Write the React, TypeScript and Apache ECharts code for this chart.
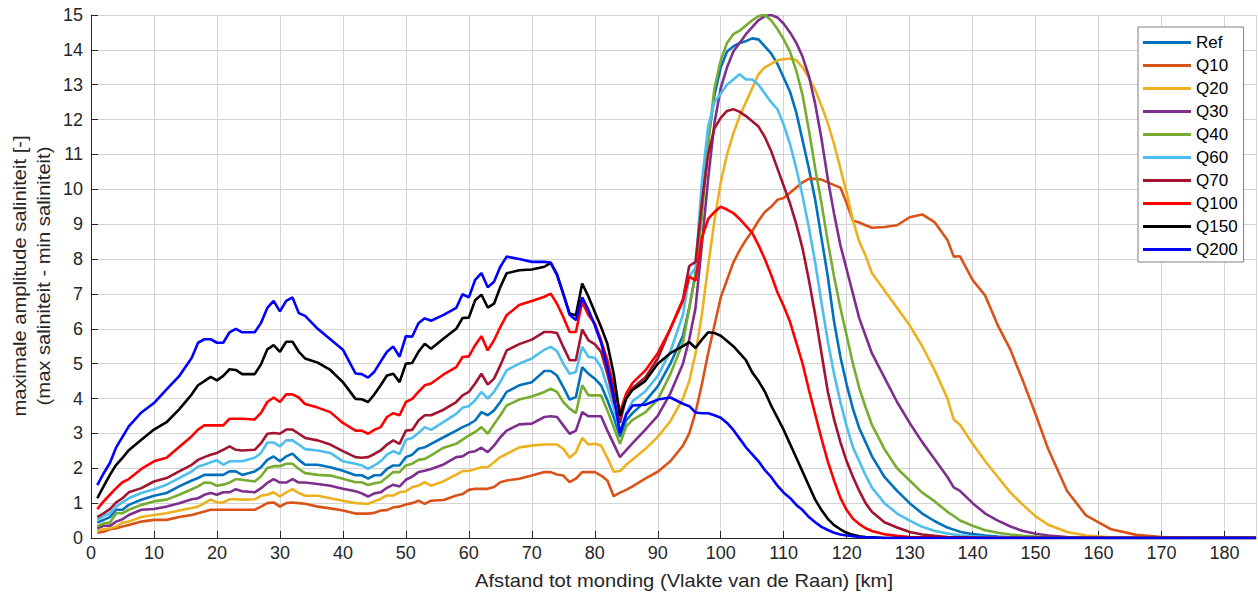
import React, { useEffect, useRef } from "react";
import * as echarts from "echarts";

// Distance from mouth (km) shared by all series
const X_KM = [
  1, 2, 3, 4, 5, 6, 8, 10,
  12, 14, 16, 17, 18, 19, 20, 21, 22, 23, 24,
  26, 27, 28, 29, 30, 31, 32, 33, 34,
  36, 38, 40, 42, 43, 44, 45, 46, 47, 48, 49, 50, 51, 52, 53, 54,
  56, 58, 59, 60, 61, 62, 63, 64, 65, 66,
  68, 70, 72, 73, 74, 75, 76, 77, 78, 79, 80, 81, 82, 83, 84, 85, 86,
  88, 90, 92, 94, 95, 96, 97, 98, 99,
  100, 101, 102, 103, 104, 105, 106, 107, 108, 109, 110, 111, 112,
  113, 114, 115, 116, 117, 118, 119, 120, 121, 122, 123, 124,
  126, 128, 130, 132, 134, 136, 137, 138,
  140, 142, 144, 146, 148, 150, 152, 155, 158, 162, 166, 170, 175, 180, 185,
];

const REF = [
  0.44, 0.52, 0.6, 0.81, 0.81, 0.95, 1.1, 1.21,
  1.29, 1.48, 1.65, 1.72, 1.81, 1.81, 1.81, 1.81, 1.91, 1.91, 1.81,
  1.91, 2.03, 2.24, 2.34, 2.2, 2.34, 2.42, 2.24, 2.1,
  2.1, 2.03, 1.93, 1.8, 1.8, 1.7, 1.8, 1.8, 1.98, 2.08, 2.08, 2.32, 2.39, 2.56, 2.6, 2.7,
  2.89, 3.08, 3.18, 3.26, 3.37, 3.61, 3.52, 3.66, 3.9, 4.19,
  4.38, 4.47, 4.79, 4.79, 4.66, 4.33, 3.97, 4.04, 4.9, 4.71, 4.57, 4.38, 3.95, 3.47, 2.9, 3.38, 3.58,
  3.92, 4.35, 5.0, 5.8, 6.6, 7.6, 9.5, 11.4, 12.7,
  13.5, 13.95, 14.1, 14.2, 14.25, 14.33, 14.3, 14.1, 13.9, 13.6, 13.2, 12.8, 12.2,
  11.4, 10.6, 9.7, 8.6, 7.5, 6.2, 5.2, 4.4, 3.7, 3.15, 2.75, 2.35,
  1.75, 1.35, 1.0, 0.7, 0.48, 0.3, 0.24, 0.18,
  0.11, 0.07, 0.04, 0.02, 0.01, 0, 0, 0, 0, 0, 0, 0, 0, 0, 0,
];

const Q10 = [
  0.15, 0.18, 0.25, 0.28, 0.33, 0.37, 0.47, 0.52,
  0.52, 0.6, 0.66, 0.71, 0.76, 0.81, 0.81, 0.81, 0.81, 0.81, 0.81,
  0.81, 0.9, 1.0, 1.02, 0.9, 1.0, 1.02, 1.0, 0.98,
  0.9, 0.85, 0.79, 0.7, 0.7, 0.7, 0.72, 0.79, 0.8, 0.88, 0.9, 0.96, 1.0, 1.07, 0.98, 1.07,
  1.09, 1.22, 1.26, 1.38, 1.41, 1.41, 1.41, 1.46, 1.6, 1.65,
  1.7, 1.79, 1.89, 1.89, 1.82, 1.79, 1.6, 1.7, 1.89, 1.89, 1.89, 1.79, 1.65, 1.2, 1.3, 1.38, 1.48,
  1.7, 1.9, 2.2, 2.65, 3.0, 3.6, 4.4, 5.3, 6.1,
  6.9, 7.4, 7.9, 8.25, 8.55, 8.8, 9.1, 9.35, 9.5, 9.7, 9.75, 9.9, 10.05,
  10.2, 10.3, 10.3, 10.28, 10.2, 10.12, 10.05, 9.6, 9.1, 9.05, 8.97, 8.9,
  8.92, 8.97, 9.2, 9.28, 9.05, 8.55, 8.07, 8.08,
  7.4, 6.95, 6.1, 5.4, 4.5, 3.55, 2.55, 1.35, 0.65, 0.25, 0.09, 0.03, 0, 0, 0,
];

const Q20 = [
  0.21, 0.25, 0.28, 0.33, 0.44, 0.47, 0.6, 0.66,
  0.71, 0.79, 0.86, 0.9, 1.0, 1.1, 1.02, 1.02, 1.11, 1.11, 1.1,
  1.11, 1.21, 1.24, 1.31, 1.19, 1.31, 1.4, 1.29, 1.21,
  1.21, 1.14, 1.07, 1.0, 0.99, 0.98, 1.05, 1.12, 1.22, 1.22, 1.31, 1.34, 1.46, 1.5, 1.6, 1.5,
  1.63, 1.82, 1.92, 1.92, 1.98, 2.03, 2.03, 2.17, 2.32, 2.41,
  2.6, 2.65, 2.68, 2.68, 2.68, 2.56, 2.3, 2.46, 2.87, 2.68, 2.7, 2.65, 2.3, 1.9, 1.92, 2.1, 2.25,
  2.55, 2.9, 3.35, 4.0, 4.5, 5.3, 6.4, 7.8, 9.1,
  10.2, 11.0, 11.6, 12.1, 12.5, 12.9, 13.3, 13.5, 13.6, 13.7, 13.73, 13.75, 13.7,
  13.5, 13.2, 12.85, 12.4, 11.9, 11.3, 10.6, 9.9, 9.1, 8.5, 8.1, 7.6,
  7.1, 6.6, 6.1, 5.5, 4.8, 4.0, 3.4, 3.25,
  2.7, 2.2, 1.75, 1.3, 0.95, 0.62, 0.38, 0.17, 0.07, 0.02, 0, 0, 0, 0, 0,
];

const Q30 = [
  0.28, 0.35, 0.35, 0.47, 0.54, 0.66, 0.81, 0.83,
  0.9, 1.0, 1.11, 1.14, 1.24, 1.29, 1.24, 1.31, 1.31, 1.4, 1.34,
  1.31, 1.43, 1.58, 1.69, 1.59, 1.59, 1.69, 1.59, 1.59,
  1.55, 1.5, 1.41, 1.34, 1.28, 1.19, 1.28, 1.31, 1.44, 1.53, 1.48, 1.67, 1.76, 1.89, 1.93, 1.98,
  2.11, 2.32, 2.34, 2.46, 2.49, 2.59, 2.46, 2.65, 2.89, 3.08,
  3.26, 3.28, 3.47, 3.49, 3.47, 3.23, 2.99, 3.08, 3.61, 3.49, 3.49, 3.49, 3.08, 2.7, 2.32, 2.52, 2.72,
  3.1, 3.5, 4.15, 5.0, 5.7, 6.6, 8.4, 10.3, 11.9,
  12.9, 13.5, 13.95, 14.2, 14.45, 14.65, 14.85, 14.97, 15.0, 14.93, 14.75, 14.5, 14.2,
  13.8, 13.25, 12.45, 11.45, 10.3, 9.3, 8.4, 7.7, 7.0, 6.3, 5.8, 5.3,
  4.6, 3.9, 3.3, 2.75, 2.25, 1.75, 1.45, 1.35,
  1.0, 0.7, 0.5, 0.33, 0.2, 0.12, 0.07, 0.03, 0.01, 0, 0, 0, 0, 0, 0,
];

const Q40 = [
  0.33, 0.42, 0.44, 0.71, 0.71, 0.81, 0.95, 1.05,
  1.1, 1.24, 1.4, 1.48, 1.59, 1.58, 1.5, 1.53, 1.59, 1.69, 1.67,
  1.62, 1.77, 2.01, 2.06, 2.06, 2.13, 2.13, 1.98, 1.86,
  1.81, 1.79, 1.7, 1.6, 1.6, 1.52, 1.57, 1.6, 1.74, 1.89, 1.89, 2.08, 2.13, 2.24, 2.27, 2.37,
  2.59, 2.7, 2.82, 2.94, 3.04, 3.18, 2.99, 3.26, 3.52, 3.8,
  3.97, 4.06, 4.19, 4.28, 4.19, 3.9, 3.71, 3.58, 4.38, 4.09, 4.09, 4.09, 3.66, 3.18, 2.7, 3.2, 3.39,
  3.6, 3.97, 4.7, 5.6, 6.6, 7.55, 9.2, 11.3, 12.9,
  13.7, 14.2, 14.45, 14.55, 14.7, 14.85, 14.97, 15.0, 14.85, 14.6, 14.3, 13.95, 13.4,
  12.7, 11.7, 10.6, 9.6, 8.5, 7.5, 6.6, 5.8, 5.0, 4.3, 3.75, 3.25,
  2.55, 2.0, 1.65, 1.3, 1.05, 0.75, 0.63, 0.5,
  0.35, 0.22, 0.15, 0.1, 0.06, 0.04, 0.02, 0.01, 0, 0, 0, 0, 0, 0, 0,
];

const Q60 = [
  0.52, 0.63, 0.71, 0.9, 1.02, 1.14, 1.29, 1.4,
  1.53, 1.72, 1.91, 2.05, 2.1, 2.17, 2.23, 2.1, 2.2, 2.2, 2.2,
  2.3, 2.44, 2.74, 2.74, 2.63, 2.8, 2.8, 2.68, 2.55,
  2.51, 2.44, 2.2, 2.13, 2.08, 1.98, 2.08, 2.2, 2.39, 2.49, 2.41, 2.82, 2.87, 3.01, 3.18, 3.1,
  3.33, 3.56, 3.74, 3.78, 3.95, 4.19, 4.0, 4.19, 4.48, 4.81,
  5.0, 5.15, 5.4, 5.48, 5.36, 5.0, 4.71, 4.76, 5.48, 5.19, 5.17, 4.9, 4.33, 3.75, 3.05, 3.58, 3.92,
  4.2, 4.65, 5.35, 6.4, 7.5, 7.75, 10.2, 11.8, 12.5,
  12.75, 13.0, 13.15, 13.3, 13.15, 13.15, 13.0, 12.75, 12.5, 12.3, 11.85, 11.3, 10.6,
  9.8, 8.9, 7.9, 6.75, 5.65, 4.7, 3.9, 3.2, 2.6, 2.2, 1.8, 1.45,
  1.0, 0.7, 0.5, 0.32, 0.2, 0.13, 0.1, 0.08,
  0.05, 0.03, 0.02, 0.01, 0, 0, 0, 0, 0, 0, 0, 0, 0, 0, 0,
];

const Q70 = [
  0.6, 0.71, 0.83, 1.02, 1.14, 1.31, 1.43, 1.62,
  1.72, 1.91, 2.1, 2.24, 2.32, 2.39, 2.44, 2.53, 2.63, 2.53, 2.51,
  2.53, 2.72, 2.99, 3.01, 2.99, 3.11, 3.11, 2.99, 2.87,
  2.8, 2.68, 2.49, 2.32, 2.3, 2.32, 2.41, 2.51, 2.68, 2.8, 2.7, 3.08, 3.1, 3.37, 3.52, 3.52,
  3.68, 3.9, 4.09, 4.19, 4.43, 4.71, 4.4, 4.57, 4.95, 5.38,
  5.56, 5.69, 5.91, 5.91, 5.88, 5.48, 5.1, 5.1, 5.98, 5.67, 5.56, 5.34, 4.71, 3.95, 3.3, 4.05, 4.3,
  4.6, 5.15, 6.0, 6.85, 7.8, 7.92, 9.6, 11.0, 11.75,
  12.05, 12.25, 12.3, 12.22, 12.1, 11.95, 11.8, 11.5, 11.1, 10.6, 10.1, 9.6, 9.0,
  8.3, 7.4, 6.4, 5.3, 4.2, 3.4, 2.75, 2.2, 1.75, 1.35, 1.0, 0.75,
  0.45, 0.3, 0.17, 0.1, 0.06, 0.03, 0.02, 0.02,
  0.01, 0, 0, 0, 0, 0, 0, 0, 0, 0, 0, 0, 0, 0, 0,
];

const Q100 = [
  0.83, 1.05, 1.24, 1.43, 1.6, 1.69, 1.98, 2.2,
  2.3, 2.61, 2.92, 3.11, 3.23, 3.23, 3.23, 3.23, 3.42, 3.42, 3.42,
  3.4, 3.59, 3.9, 4.03, 3.9, 4.12, 4.12, 4.03, 3.84,
  3.74, 3.61, 3.3, 3.08, 3.08, 2.99, 3.1, 3.18, 3.47, 3.58, 3.52, 3.9, 3.99, 4.19, 4.38, 4.43,
  4.69, 4.9, 5.19, 5.21, 5.53, 5.79, 5.38, 5.67, 6.05, 6.39,
  6.68, 6.8, 6.92, 7.01, 6.72, 6.34, 5.91, 5.91, 6.77, 6.39, 6.15, 5.67, 5.1, 4.33, 3.6, 4.15, 4.45,
  4.8, 5.3, 6.0, 6.8, 7.5, 7.38, 8.6, 9.15, 9.35,
  9.5, 9.42, 9.32, 9.15, 8.95, 8.75, 8.4, 8.0, 7.55, 7.05, 6.65, 6.2, 5.6,
  5.0, 4.25, 3.55, 2.85, 2.2, 1.65, 1.15, 0.8, 0.55, 0.4, 0.28, 0.2,
  0.11, 0.06, 0.03, 0.02, 0.01, 0, 0, 0,
  0, 0, 0, 0, 0, 0, 0, 0, 0, 0, 0, 0, 0, 0, 0,
];

const Q150 = [
  1.14, 1.48, 1.81, 2.1, 2.3, 2.52, 2.82, 3.11,
  3.32, 3.69, 4.12, 4.38, 4.5, 4.62, 4.52, 4.65, 4.84, 4.82, 4.7,
  4.7, 4.98, 5.41, 5.53, 5.34, 5.63, 5.63, 5.34, 5.15,
  5.03, 4.82, 4.47, 3.99, 3.98, 3.9, 4.12, 4.38, 4.66, 4.71, 4.47, 5.0, 5.02, 5.34, 5.57, 5.43,
  5.72, 6.0, 6.31, 6.32, 6.82, 6.98, 6.61, 6.72, 7.2, 7.59,
  7.68, 7.7, 7.78, 7.89, 7.57, 7.0, 6.44, 6.39, 7.3, 6.92, 6.48, 6.05, 5.57, 4.71, 3.5, 4.0, 4.25,
  4.5, 5.0, 5.3, 5.5, 5.62, 5.45, 5.69, 5.9, 5.88,
  5.8, 5.65, 5.5, 5.3, 5.1, 4.75, 4.5, 4.2, 3.8, 3.45, 3.1, 2.7, 2.3,
  1.9, 1.5, 1.1, 0.8, 0.55, 0.37, 0.25, 0.15, 0.09, 0.05, 0.03, 0.02,
  0, 0, 0, 0, 0, 0, 0, 0,
  0, 0, 0, 0, 0, 0, 0, 0, 0, 0, 0, 0, 0, 0, 0,
];

const Q200 = [
  1.52, 1.85, 2.15, 2.6, 2.9, 3.2, 3.6, 3.87,
  4.26, 4.64, 5.17, 5.6, 5.7, 5.7, 5.6, 5.6, 5.9, 6.0, 5.9,
  5.9, 6.17, 6.6, 6.8, 6.5, 6.8, 6.9, 6.45, 6.37,
  6.0, 5.7, 5.4, 4.72, 4.7, 4.6, 4.77, 5.06, 5.34, 5.49, 5.2, 5.79, 5.77, 6.16, 6.3, 6.23,
  6.4, 6.6, 6.99, 6.9, 7.4, 7.6, 7.19, 7.35, 7.78, 8.07,
  8.0, 7.92, 7.92, 7.9, 7.54, 7.0, 6.4, 6.25, 6.9, 6.54, 6.1, 5.6, 4.9, 4.1, 3.0, 3.55, 3.8,
  3.82, 3.97, 4.03, 3.85, 3.78, 3.6, 3.58, 3.58, 3.52,
  3.45, 3.3, 3.1, 2.85, 2.6, 2.4, 2.2, 1.95, 1.75, 1.5, 1.3, 1.15, 0.95,
  0.8, 0.6, 0.45, 0.32, 0.23, 0.15, 0.1, 0.07, 0.05, 0.03, 0.02, 0.01,
  0, 0, 0, 0, 0, 0, 0, 0,
  0, 0, 0, 0, 0, 0, 0, 0, 0, 0, 0, 0, 0, 0, 0,
];

const SERIES_NAMES = ["Ref", "Q10", "Q20", "Q30", "Q40", "Q60", "Q70", "Q100", "Q150", "Q200"];
const SERIES_VALUES = [REF, Q10, Q20, Q30, Q40, Q60, Q70, Q100, Q150, Q200];
const SERIES_COLORS = [
  "#0072BD", "#D95319", "#EDB120", "#7E2F8E", "#77AC30",
  "#4DBEEE", "#A2142F", "#FF0000", "#000000", "#0000FF",
];

const X_TITLE = "Afstand tot monding (Vlakte van de Raan) [km]";
const Y_TITLE_1 = "maximale amplitude saliniteit [-]";
const Y_TITLE_2 = "(max saliniteit - min saliniteit)";

const FONT = "'Liberation Sans', Arial, Helvetica, sans-serif";
const AXIS_COLOR = "#262626";
const GRID_COLOR = "#d3d3d3";

export default function App() {
  const ref = useRef<HTMLDivElement>(null);

  useEffect(() => {
    if (!ref.current) return;
    const chart = echarts.init(ref.current, undefined, { renderer: "svg" });

    const series = SERIES_NAMES.map((name, s) => ({
      name,
      type: "line",
      symbol: "none",
      showSymbol: false,
      color: SERIES_COLORS[s],
      lineStyle: { width: 2.6, color: SERIES_COLORS[s] },
      data: X_KM.map((x, i) => [x, SERIES_VALUES[s][i]]),
      z: 2 + s,
    }));

    const titleStyle = {
      font: `18px ${FONT}`,
      fill: AXIS_COLOR,
      textAlign: "center",
      textVerticalAlign: "middle",
    };

    chart.setOption({
      animation: false,
      backgroundColor: "#ffffff",
      grid: { left: 91, top: 15, width: 1165, height: 523, containLabel: false },
      xAxis: {
        type: "value",
        min: 0,
        max: 185,
        interval: 10,
        axisLine: { show: true, onZero: false, lineStyle: { color: AXIS_COLOR, width: 1 } },
        axisTick: { show: true, inside: true, length: 7, lineStyle: { color: AXIS_COLOR } },
        axisLabel: {
          fontSize: 18,
          color: AXIS_COLOR,
          fontFamily: FONT,
          margin: 6,
          showMaxLabel: false,
          formatter: (v: number) => (v % 10 === 0 ? String(v) : ""),
        },
        splitLine: { show: true, lineStyle: { color: GRID_COLOR, width: 1 } },
      },
      yAxis: {
        type: "value",
        min: 0,
        max: 15,
        interval: 1,
        axisLine: { show: true, onZero: false, lineStyle: { color: AXIS_COLOR, width: 1 } },
        axisTick: { show: true, inside: true, length: 7, lineStyle: { color: AXIS_COLOR } },
        axisLabel: { fontSize: 18, color: AXIS_COLOR, fontFamily: FONT, margin: 8 },
        splitLine: { show: true, lineStyle: { color: GRID_COLOR, width: 1 } },
      },
      legend: {
        show: true,
        orient: "vertical",
        left: 1138,
        top: 27,
        padding: [7, 6, 4, 5],
        icon: "rect",
        itemWidth: 48,
        itemHeight: 3,
        itemGap: 6,
        backgroundColor: "#ffffff",
        borderColor: "#7f7f7f",
        borderWidth: 1,
        borderRadius: 0,
        textStyle: { fontSize: 17, lineHeight: 17, color: "#000000", fontFamily: FONT },
        data: SERIES_NAMES,
      },
      graphic: [
        {
          type: "text",
          x: 684,
          y: 581,
          scaleX: 1.12,
          style: { ...titleStyle, text: X_TITLE },
        },
        {
          type: "text",
          x: 20,
          y: 276,
          rotation: Math.PI / 2,
          scaleX: 1.12,
          style: { ...titleStyle, text: Y_TITLE_1 },
        },
        {
          type: "text",
          x: 44,
          y: 276,
          rotation: Math.PI / 2,
          scaleX: 1.12,
          style: { ...titleStyle, text: Y_TITLE_2 },
        },
      ],
      series,
    });

    return () => chart.dispose();
  }, []);

  return (
    <div
      ref={ref}
      style={{ position: "fixed", left: 0, top: 0, width: 1258, height: 603, background: "#ffffff" }}
    />
  );
}
